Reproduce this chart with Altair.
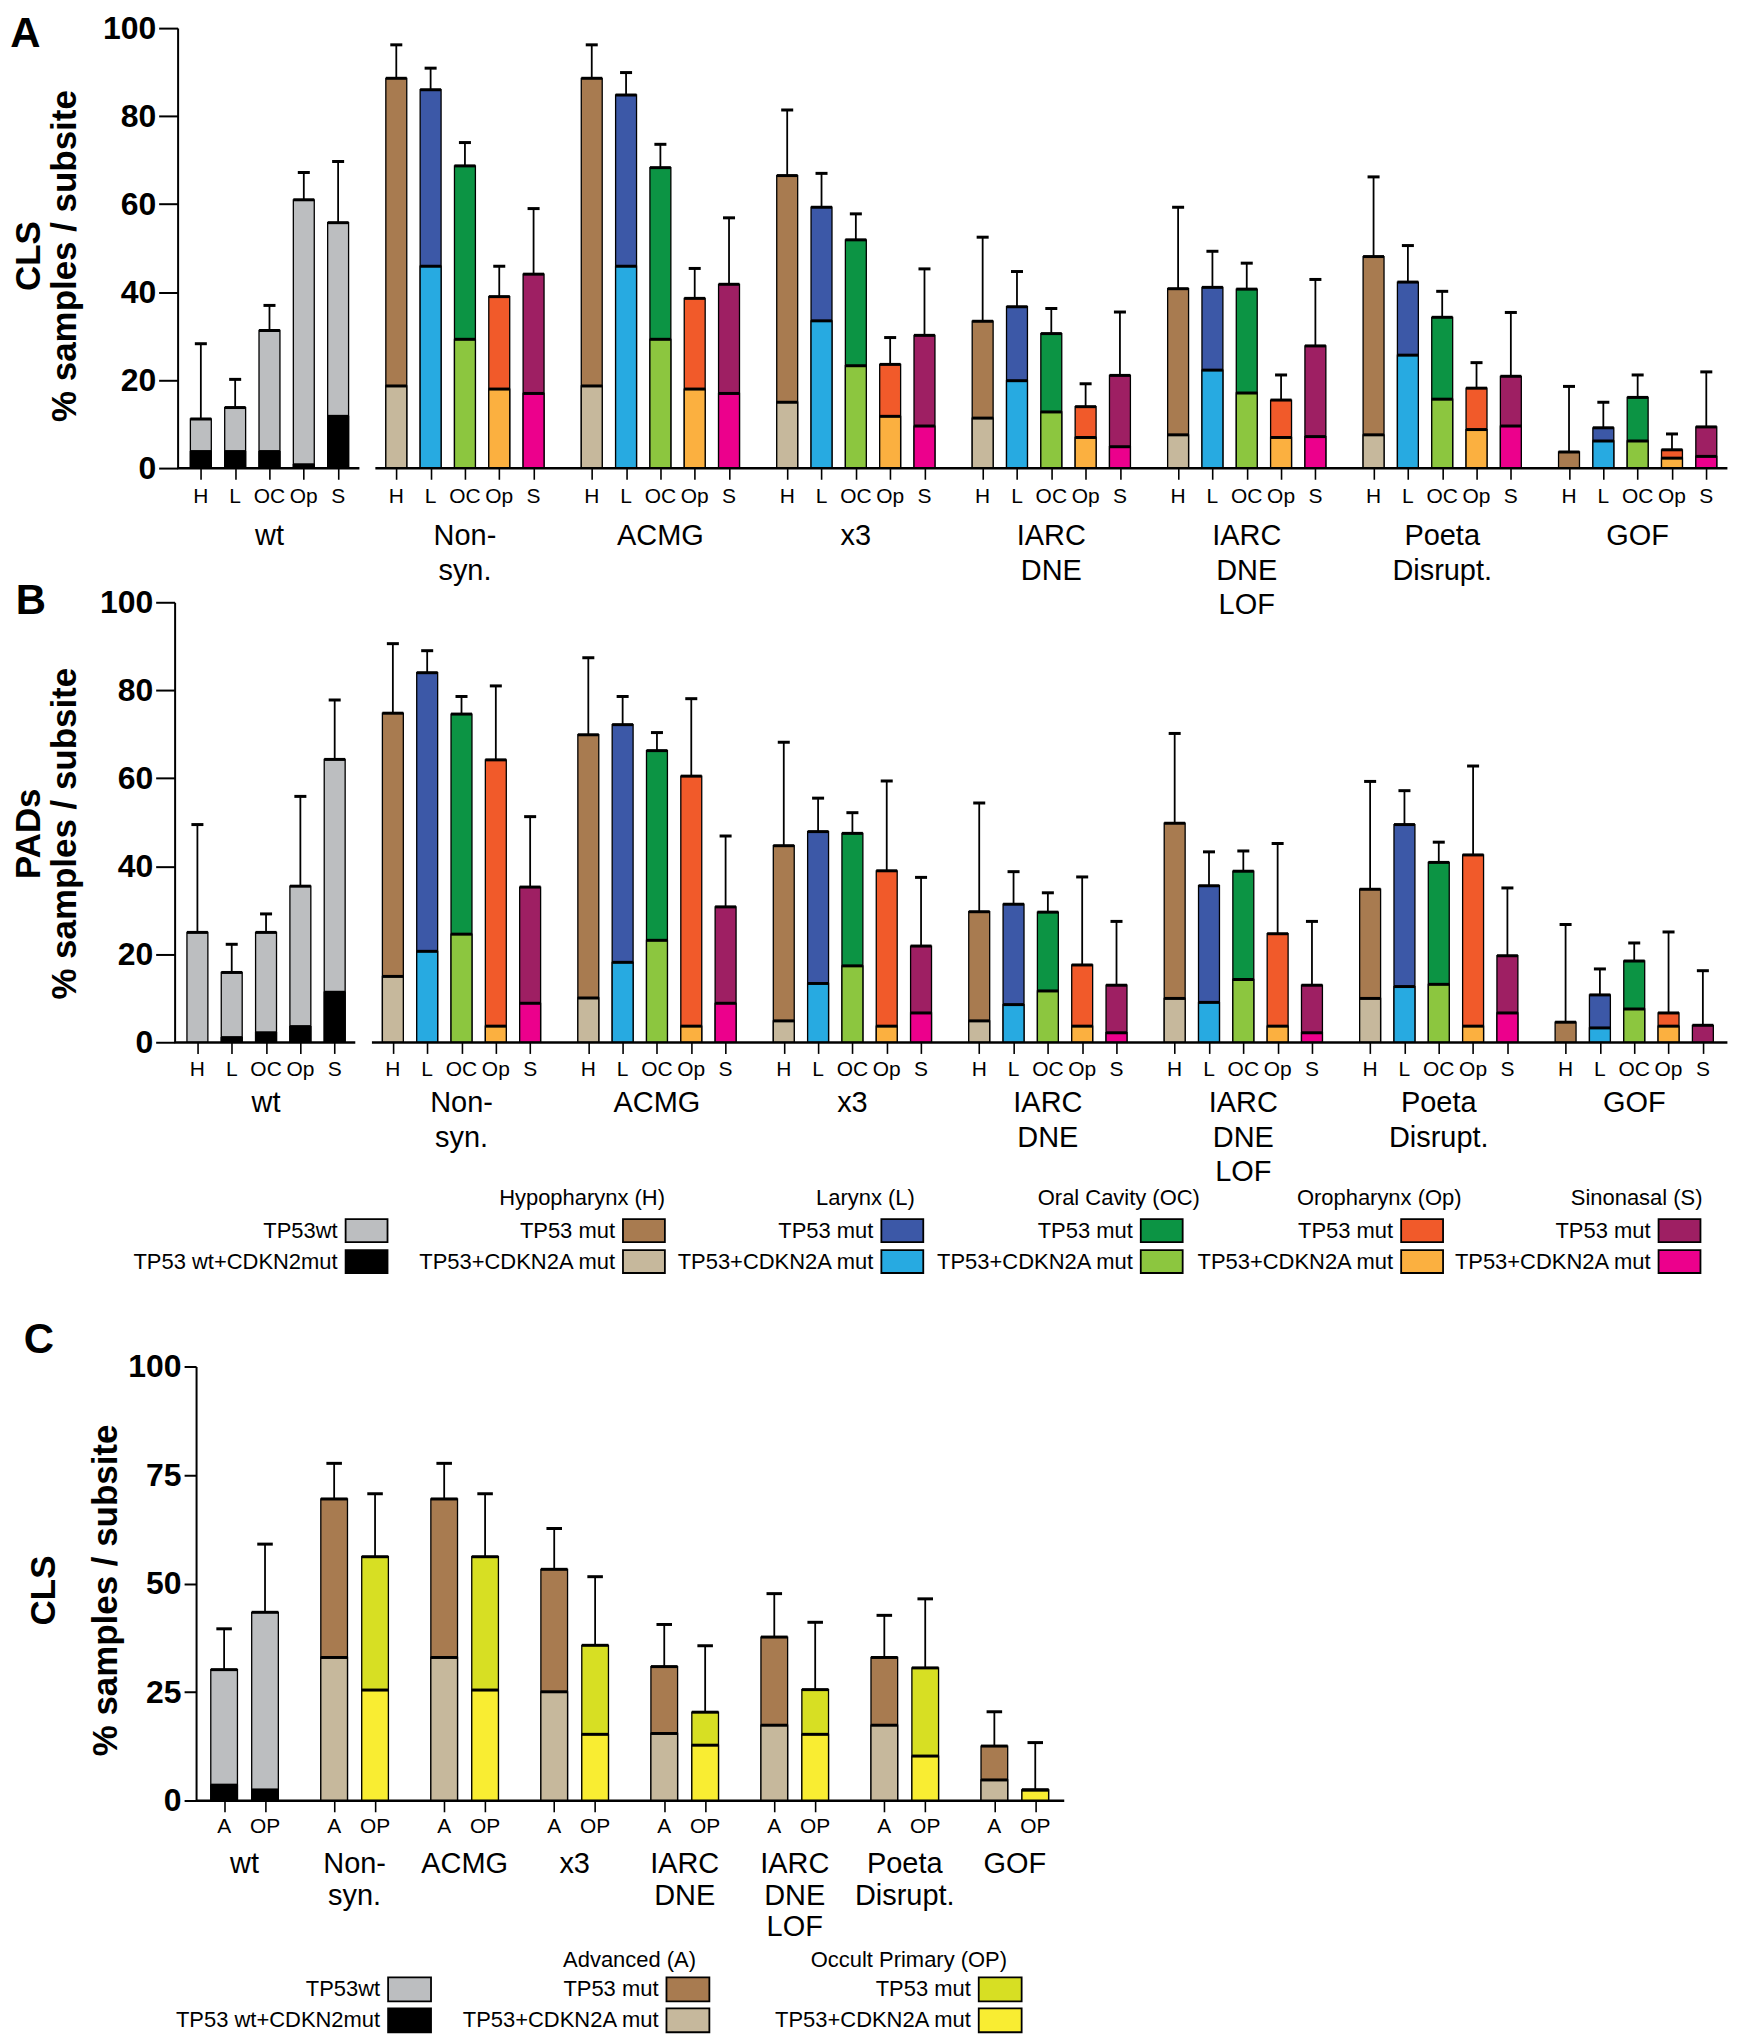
import altair as alt
import pandas as pd

# ---------------- data ----------------
GROUP_LABELS = ["wt", "Non-\nsyn.", "ACMG", "x3", "IARC\nDNE", "IARC\nDNE\nLOF", "Poeta\nDisrupt.", "GOF"]
SUBSITES = ["H", "L", "OC", "Op", "S"]
C_SITES = ["A", "OP"]

# Panel A: CLS, % samples / subsite  (rows = groups, cols = H, L, OC, Op, S)
A_TOTAL = [
    [11.2, 13.8, 31.3, 61.0, 55.8],
    [88.6, 86.0, 68.7, 39.0, 44.1],
    [88.6, 84.8, 68.3, 38.6, 41.8],
    [66.5, 59.3, 51.9, 23.6, 30.2],
    [33.4, 36.7, 30.6, 14.0, 21.1],
    [40.8, 41.1, 40.7, 15.5, 27.8],
    [48.1, 42.3, 34.3, 18.2, 20.9],
    [3.7, 9.2, 16.1, 4.2, 9.4],
]
A_CDKN = [
    [3.8, 3.8, 3.8, 0.8, 11.8],
    [18.7, 45.9, 29.3, 18.0, 17.0],
    [18.7, 45.9, 29.3, 18.0, 17.0],
    [15.0, 33.5, 23.3, 11.8, 9.6],
    [11.4, 19.9, 12.8, 7.0, 4.9],
    [7.6, 22.3, 17.1, 7.0, 7.2],
    [7.6, 25.7, 15.7, 8.8, 9.6],
    [0.0, 6.2, 6.2, 2.3, 2.7],
]
A_ERR = [
    [28.3, 20.2, 37.0, 67.2, 69.7],
    [96.2, 90.9, 74.0, 45.9, 59.0],
    [96.2, 89.9, 73.6, 45.4, 56.9],
    [81.4, 67.0, 57.8, 29.7, 45.3],
    [52.5, 44.7, 36.3, 19.2, 35.5],
    [59.3, 49.3, 46.6, 21.2, 42.9],
    [66.2, 50.6, 40.2, 24.0, 35.4],
    [18.6, 15.0, 21.2, 7.8, 21.9],
]

# Panel B: PADs
B_TOTAL = [
    [25.0, 15.9, 25.0, 35.5, 64.3],
    [74.8, 84.0, 74.6, 64.2, 35.3],
    [69.9, 72.2, 66.3, 60.5, 30.8],
    [44.7, 47.9, 47.5, 39.0, 21.9],
    [29.7, 31.4, 29.6, 17.6, 13.0],
    [49.8, 35.6, 38.9, 24.7, 13.0],
    [34.8, 49.5, 40.9, 42.6, 19.7],
    [4.6, 10.8, 18.5, 6.7, 3.9],
]
B_CDKN = [
    [0.0, 1.1, 2.2, 3.6, 11.4],
    [15.0, 20.7, 24.6, 3.7, 8.9],
    [10.1, 18.2, 23.2, 3.7, 8.9],
    [4.9, 13.4, 17.4, 3.7, 6.7],
    [4.9, 8.6, 11.7, 3.7, 2.2],
    [10.0, 9.1, 14.3, 3.7, 2.2],
    [10.0, 12.7, 13.2, 3.7, 6.7],
    [0.0, 3.3, 7.6, 3.7, 0.0],
]
B_ERR = [
    [49.5, 22.3, 29.2, 55.9, 77.8],
    [90.6, 89.0, 78.6, 81.0, 51.3],
    [87.4, 78.6, 70.4, 78.1, 46.9],
    [68.2, 55.5, 52.2, 59.4, 37.5],
    [54.4, 38.8, 34.0, 37.6, 27.5],
    [70.2, 43.3, 43.5, 45.2, 27.5],
    [59.3, 57.2, 45.5, 62.8, 35.1],
    [26.8, 16.7, 22.6, 25.1, 16.3],
]

# Panel C: CLS, Advanced (A) vs Occult Primary (OP)
C_TOTAL = [[30.2, 43.4], [69.5, 56.2], [69.5, 56.2], [53.3, 35.8],
           [30.9, 20.4], [37.7, 25.6], [33.0, 30.6], [12.6, 2.5]]
C_CDKN = [[3.6, 2.5], [33.0, 25.5], [33.0, 25.5], [25.1, 15.3],
          [15.5, 12.8], [17.4, 15.3], [17.4, 10.3], [4.8, 2.5]]
C_ERR = [[39.6, 59.1], [77.7, 70.7], [77.7, 70.7], [62.7, 51.6],
         [40.6, 35.7], [47.7, 41.1], [42.7, 46.5], [20.5, 13.4]]

SERIES_KEYS = ["wt", "H", "L", "OC", "Op", "S", "A", "OP"]
MUT_COLORS = ["#BCBEC0", "#A87B50", "#3C58A7", "#0C9444", "#F15A2A", "#9E1F63", "#A87B50", "#D7DF23"]
CDKN_COLORS = ["#000000", "#C6B89C", "#27AAE1", "#8CC63F", "#FBB040", "#EC008C", "#C6B89C", "#F9ED32"]

LEG_AB_HEADERS = ["Hypopharynx (H)", "Larynx (L)", "Oral Cavity (OC)", "Oropharynx (Op)", "Sinonasal (S)"]
LEG_AB_KEYS = ["wt", "H", "L", "OC", "Op", "S"]
LEG_C_HEADERS = ["Advanced (A)", "Occult Primary (OP)"]
LEG_C_KEYS = ["wt", "A", "OP"]
WT_LABELS = ["TP53wt", "TP53 wt+CDKN2mut"]
MUT_LABELS = ["TP53 mut", "TP53+CDKN2A mut"]
Y_SUB = "% samples / subsite"

# ---------------- styling / layout ----------------
SANS = "Liberation Sans, Arial, Helvetica, sans-serif"
COLOR_SCALE = alt.Scale(domain=[k + "|mut" for k in SERIES_KEYS] + [k + "|cdkn" for k in SERIES_KEYS],
                        range=MUT_COLORS + CDKN_COLORS)


def colour(field):
    return alt.Color(field, type="nominal", scale=COLOR_SCALE, legend=None)


def panel(total, cdkn, err, sites, lay):
    gstep, half, cap = lay["gstep"], lay["half"], lay["cap"]
    rows = []
    for g in range(len(GROUP_LABELS)):
        for i, s in enumerate(sites):
            key = "wt" if g == 0 else s
            pos = g * gstep + i
            rows.append({"site": s, "pos": pos, "xl": pos - half, "xr": pos + half,
                         "cl": pos - cap, "cr": pos + cap,
                         "total": total[g][i], "cdkn": cdkn[g][i], "err": err[g][i],
                         "zero": 0.0, "kmut": key + "|mut", "kcdkn": key + "|cdkn"})
    df = pd.DataFrame(rows)
    n = len(sites)
    gdf = pd.DataFrame({"label": GROUP_LABELS,
                        "center": [g * gstep + (n - 1) / 2 for g in range(len(GROUP_LABELS))]})
    lo = lay["lo"]
    hi = lo + lay["width"] / lay["slot"]
    seg = pd.DataFrame(lay["segs"](lo, hi))
    seg["zero"] = 0.0

    xs = alt.Scale(domain=[lo, hi], nice=False, zero=False)
    ys = alt.Scale(domain=[0, 100], nice=False, zero=False)
    xaxis = alt.Axis(values=[float(v) for v in df["pos"]], labels=False, domain=False, grid=False,
                     ticks=True, tickSize=11, tickWidth=1.6, tickColor="black", title=None)
    yaxis = alt.Axis(values=lay["yticks"], grid=False, domainColor="black", domainWidth=2,
                     tickColor="black", tickWidth=2, tickSize=lay["ytick"],
                     labelFont=SANS, labelFontWeight="bold", labelFontSize=32, labelColor="black",
                     labelPadding=3, offset=lay["yoffset"],
                     title=[lay["title"], Y_SUB], titleFont=SANS, titleFontSize=35,
                     titleFontWeight="bold", titleColor="black", titleAngle=270,
                     titleAlign="center", titleBaseline="middle",
                     titleLineHeight=lay["tlh"], titleX=lay["tx"], titleY=lay["ty"])

    def X(f):
        return alt.X(f, type="quantitative", scale=xs, axis=xaxis)

    def Y(f):
        return alt.Y(f, type="quantitative", scale=ys, axis=yaxis)

    base = alt.Chart(df)
    lowers = base.transform_filter("datum.cdkn > 0")
    layers = [
        base.mark_bar(stroke="black", strokeWidth=1.3).encode(
            x=X("xl"), x2="xr", y=Y("total"), y2="zero", color=colour("kmut")),
        lowers.mark_bar(stroke="black", strokeWidth=1.3).encode(
            x=X("xl"), x2="xr", y=Y("cdkn"), y2="zero", color=colour("kcdkn")),
        base.mark_rule(color="black", strokeWidth=3).encode(x=X("xl"), x2="xr", y=Y("total")),
        lowers.mark_rule(color="black", strokeWidth=3).encode(x=X("xl"), x2="xr", y=Y("cdkn")),
        base.mark_rule(color="black", strokeWidth=1.8).encode(x=X("pos"), y=Y("total"), y2="err"),
        base.mark_rule(color="black", strokeWidth=3).encode(x=X("cl"), x2="cr", y=Y("err")),
        alt.Chart(seg).mark_rule(color="black", strokeWidth=2.6).encode(x=X("x0"), x2="x1", y=Y("zero")),
        base.mark_text(font=SANS, fontSize=21, baseline="middle", align="center", color="black").encode(
            x=X("pos"), y=alt.value(lay["height"] + lay["tick_dy"]), text="site"),
        alt.Chart(gdf).mark_text(font=SANS, fontSize=29, baseline="alphabetic", align="center",
                                 color="black", lineBreak="\n", lineHeight=lay["glh"]).encode(
            x=X("center"), y=alt.value(lay["height"] + lay["group_dy"]), text="label"),
        alt.Chart(pd.DataFrame({"t": [lay["letter"]]})).mark_text(
            font=SANS, fontSize=42, fontWeight="bold", baseline="middle", align="center", color="black").encode(
            x=alt.value(lay["lx"]), y=alt.value(lay["ly"]), text="t"),
    ]
    if lay.get("pin"):
        px, py = lay["pin"]
        layers.append(alt.Chart(pd.DataFrame({"t": [0]})).mark_rule(opacity=0).encode(
            x=alt.value(px), x2=alt.value(px + 1), y=alt.value(py), y2=alt.value(py + 1)))
    return alt.layer(*layers).properties(width=lay["width"], height=lay["height"])


def legend(width, height, keys, headers, header_x, header_y, sw_left, row_y, sw_w, sw_h):
    sw = []
    for c, k in enumerate(keys):
        labels = WT_LABELS if k == "wt" else MUT_LABELS
        for r, suffix in enumerate(["|mut", "|cdkn"]):
            sw.append({"x0": sw_left[c], "x1": sw_left[c] + sw_w,
                       "y0": row_y[r] - sw_h / 2, "y1": row_y[r] + sw_h / 2,
                       "tx": sw_left[c] - 8, "ty": row_y[r], "label": labels[r], "key": k + suffix})
    sw = pd.DataFrame(sw)
    hd = pd.DataFrame({"label": headers, "hx": header_x, "hy": [header_y] * len(headers)})
    xs = alt.Scale(domain=[0, width], nice=False, zero=False)
    ys = alt.Scale(domain=[0, height], nice=False, zero=False, reverse=True)

    def X(f):
        return alt.X(f, type="quantitative", scale=xs, axis=None)

    def Y(f):
        return alt.Y(f, type="quantitative", scale=ys, axis=None)

    rect = alt.Chart(sw).mark_rect(stroke="black", strokeWidth=1.8).encode(
        x=X("x0"), x2="x1", y=Y("y0"), y2="y1", color=colour("key"))
    txt = alt.Chart(sw).mark_text(font=SANS, fontSize=22, align="right", baseline="middle", color="black").encode(
        x=X("tx"), y=Y("ty"), text="label")
    head = alt.Chart(hd).mark_text(font=SANS, fontSize=22, align="center", baseline="middle", color="black").encode(
        x=X("hx"), y=Y("hy"), text="label")
    return alt.layer(rect, txt, head).properties(width=width, height=height)


W_AB = 1553.4
H_AB = 441.2

lay_A = dict(gstep=5.695, half=0.305, cap=0.175, slot=34.4, lo=-0.677, width=W_AB, height=H_AB,
             yticks=[0, 20, 40, 60, 80, 100], ytick=19, yoffset=0, title="CLS",
             tlh=36, tx=-149.1, ty=228, tick_dy=29, group_dy=77, glh=34.5,
             letter="A", lx=-152.6, ly=6.2, pin=(-169.6, -19.5),
             segs=lambda lo, hi: {"x0": [lo, 5.695 - 0.61], "x1": [4.62, hi]})
lay_B = dict(gstep=5.695, half=0.305, cap=0.175, slot=34.4, lo=-0.577, width=W_AB, height=H_AB,
             yticks=[0, 20, 40, 60, 80, 100], ytick=19, yoffset=3, title="PADs",
             tlh=36, tx=-146.5, ty=231.5, tick_dy=28, group_dy=70, glh=34.5,
             letter="B", lx=-147, ly=-1,
             segs=lambda lo, hi: {"x0": [lo - 3 / 34.4, 5.695 - 0.61], "x1": [4.6, hi]})
lay_C = dict(gstep=2.69, half=0.326, cap=0.19, slot=41.0, lo=-1.137, width=888.7, height=435.3,
             yticks=[0, 25, 50, 75, 100], ytick=12, yoffset=-18.5, title="CLS",
             tlh=62, tx=-153.2, ty=224, tick_dy=26, group_dy=72, glh=32,
             letter="C", lx=-139, ly=-27,
             segs=lambda lo, hi: {"x0": [-0.686], "x1": [hi]})

chart_A = panel(A_TOTAL, A_CDKN, A_ERR, SUBSITES, lay_A)
chart_B = panel(B_TOTAL, B_CDKN, B_ERR, SUBSITES, lay_B)
chart_C = panel(C_TOTAL, C_CDKN, C_ERR, C_SITES, lay_C)

leg_AB = legend(W_AB, 56.2, LEG_AB_KEYS, LEG_AB_HEADERS,
                [405.4, 689.4, 943.4, 1204.4, 1462.4], 21.3,
                [168.4, 446.4, 705.4, 965.4, 1226.4, 1484.4], [54.3, 85.3], 42, 23)
leg_C = legend(888.7, 100, LEG_C_KEYS, LEG_C_HEADERS,
               [453, 733], 25.8, [211, 490, 803], [54.8, 85.8], 43, 24)

chart = alt.vconcat(chart_A, chart_B, leg_AB, chart_C, leg_C, spacing=133.5, bounds="flush") \
    .properties(padding={"left": 0, "top": -2.2, "right": 0, "bottom": 0}).configure_view(stroke=None)

chart.save("out.html", embed_options={"renderer": "svg", "actions": False})
